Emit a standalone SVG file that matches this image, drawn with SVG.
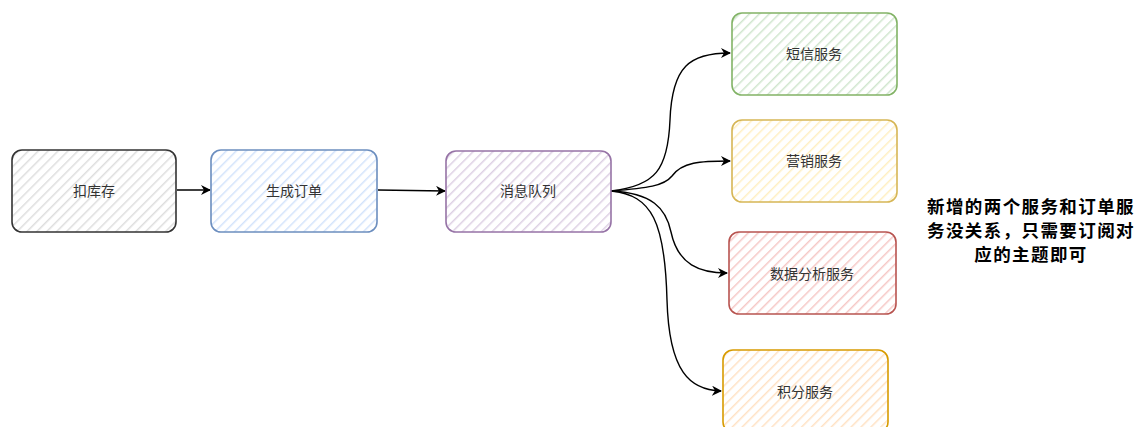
<svg xmlns="http://www.w3.org/2000/svg" width="1143" height="427" viewBox="0 0 1143 427">
<style>
.box{stroke-width:1.6}
.lbl{font-family:"Liberation Sans","Noto Sans CJK SC",sans-serif;font-size:14px;fill:#333;text-anchor:middle;dominant-baseline:central}
.note{font-family:"Liberation Sans","Noto Sans CJK SC",sans-serif;font-size:17.5px;letter-spacing:1.4px;font-weight:bold;fill:#000;text-anchor:middle}
.edge{fill:none;stroke:#000;stroke-width:1.4;marker-end:url(#arr)}
</style>
<defs>
<marker id="arr" viewBox="0 0 10 10" refX="9" refY="5" markerWidth="10" markerHeight="10" markerUnits="userSpaceOnUse" orient="auto">
<path d="M0,0 L10,5 L0,10 L3,5 Z" fill="#000"/>
</marker>
<pattern id="hGray" width="7" height="7" patternUnits="userSpaceOnUse" patternTransform="rotate(45)"><rect width="7" height="7" fill="#fff"/><line x1="0" y1="0" x2="0" y2="7" stroke="#dedede" stroke-width="3"/></pattern>
<pattern id="hBlue" width="7" height="7" patternUnits="userSpaceOnUse" patternTransform="rotate(45)"><rect width="7" height="7" fill="#fff"/><line x1="0" y1="0" x2="0" y2="7" stroke="#d3e3fb" stroke-width="3"/></pattern>
<pattern id="hPurple" width="7" height="7" patternUnits="userSpaceOnUse" patternTransform="rotate(45)"><rect width="7" height="7" fill="#fff"/><line x1="0" y1="0" x2="0" y2="7" stroke="#ddd0e4" stroke-width="3"/></pattern>
<pattern id="hGreen" width="7" height="7" patternUnits="userSpaceOnUse" patternTransform="rotate(45)"><rect width="7" height="7" fill="#fff"/><line x1="0" y1="0" x2="0" y2="7" stroke="#d0e6ce" stroke-width="3"/></pattern>
<pattern id="hYellow" width="7" height="7" patternUnits="userSpaceOnUse" patternTransform="rotate(45)"><rect width="7" height="7" fill="#fff"/><line x1="0" y1="0" x2="0" y2="7" stroke="#ffefc2" stroke-width="3"/></pattern>
<pattern id="hRed" width="7" height="7" patternUnits="userSpaceOnUse" patternTransform="rotate(45)"><rect width="7" height="7" fill="#fff"/><line x1="0" y1="0" x2="0" y2="7" stroke="#f6c8c6" stroke-width="3"/></pattern>
<pattern id="hOrange" width="7" height="7" patternUnits="userSpaceOnUse" patternTransform="rotate(45)"><rect width="7" height="7" fill="#fff"/><line x1="0" y1="0" x2="0" y2="7" stroke="#ffe2c4" stroke-width="3"/></pattern>
</defs>
<rect width="1143" height="427" fill="#fff"/>
<g id="connectors">
<path class="edge" d="M177,190 L210,190"/>
<path class="edge" d="M378,190 L445,191"/>
<path class="edge" d="M611,191 C655,186 668,170 670,120 C672,66 690,53 730,53"/>
<path class="edge" d="M611,191 C648,188 664,186 672,176 C682,162 700,161 730,161"/>
<path class="edge" d="M611,191 C652,193 666,208 671,232 C678,265 700,273 727,273"/>
<path class="edge" d="M611,191 C652,195 665,222 667,300 C669,372 690,390 721,391"/>
</g>
<g id="n1"><rect class="box" x="12" y="150" width="164" height="82" rx="10" fill="url(#hGray)" stroke="#333"/><text class="lbl" x="94" y="191">扣库存</text></g>
<g id="n2"><rect class="box" x="211" y="150" width="166" height="82" rx="10" fill="url(#hBlue)" stroke="#6c8ebf"/><text class="lbl" x="294" y="191">生成订单</text></g>
<g id="n3"><rect class="box" x="446" y="151" width="165" height="81" rx="10" fill="url(#hPurple)" stroke="#9673a6"/><text class="lbl" x="528" y="191">消息队列</text></g>
<g id="n4"><rect class="box" x="732" y="13" width="165" height="82" rx="10" fill="url(#hGreen)" stroke="#82b366"/><text class="lbl" x="814" y="54">短信服务</text></g>
<g id="n5"><rect class="box" x="732" y="120" width="165" height="82" rx="10" fill="url(#hYellow)" stroke="#d6b656"/><text class="lbl" x="814" y="161">营销服务</text></g>
<g id="n6"><rect class="box" x="729" y="232" width="167" height="82" rx="10" fill="url(#hRed)" stroke="#b85450"/><text class="lbl" x="812" y="274">数据分析服务</text></g>
<g id="n7"><rect class="box" x="723" y="350" width="165" height="82" rx="10" fill="url(#hOrange)" stroke="#d79b00"/><text class="lbl" x="805" y="392">积分服务</text></g>
<g id="note">
<text class="note" x="1031" y="213">新增的两个服务和订单服</text>
<text class="note" x="1031" y="237">务没关系，只需要订阅对</text>
<text class="note" x="1031" y="261">应的主题即可</text>
</g>
</svg>
